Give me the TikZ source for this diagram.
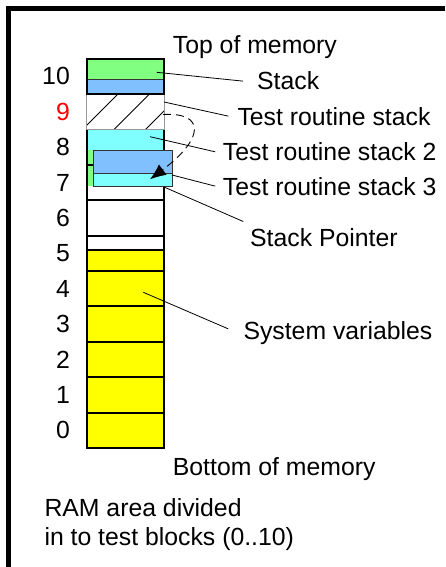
\documentclass[tikz,border=0pt]{standalone}
\usepackage{fontspec}
\setmainfont{Liberation Sans}
\usetikzlibrary{arrows.meta}
\definecolor{memgreen}{RGB}{128,255,128}
\definecolor{memblue}{RGB}{128,192,255}
\definecolor{memcyan}{RGB}{128,255,255}
\definecolor{memyellow}{RGB}{255,255,0}
\tikzset{
  blk/.style={draw=black, line width=2pt},
  subblk/.style={draw=black!80, line width=1pt},
  hatchln/.style={black, line width=0.8pt},
  lead/.style={black, line width=0.8pt},
  lbl/.style={anchor=base west, inner sep=0pt, font=\fontsize{24.8}{29}\selectfont},
  blknum/.style={anchor=east, inner sep=0pt, font=\fontsize{24.8}{29}\selectfont},
  swaparr/.style={dash pattern=on 8pt off 5pt, line width=0.9pt, -{Latex[length=16pt,width=13pt]}},
}

\begin{document}
\begin{tikzpicture}[x=1pt,y=-1pt]
\useasboundingbox (0,0) rectangle (445,567);
\def\L{86.5} \def\R{164} \def\bh{35.4}
% frame (only top and left edge show)
\draw[line width=4.5pt] (8.5,567) -- (8.5,8.5) -- (445,8.5);
% blocks 0..4: system variables
\foreach \i in {0,...,4}{
  \pgfmathsetmacro\yb{448-\i*\bh}
  \pgfmathsetmacro\yt{448-(\i+1)*\bh}
  \draw[blk, fill=memyellow] (\L,\yb) rectangle (\R,\yt);
}
% block 5
\fill[memyellow] (\L,250) rectangle (\R,271);
\draw[black, line width=1.4pt] (\L,250) -- (\R,250);
\draw[blk] (\L,271) rectangle (\R,235.6);
% block 6
\draw[blk] (\L,235.6) rectangle (\R,200.2);
% block 7
\fill[memgreen] (\L,164.8) rectangle (\R,186);
\draw[blk] (\L,200.2) rectangle (\R,164.8);
% block 8
\fill[memcyan] (\L,129.4) rectangle (\R,150);
\fill[memgreen] (\L,150) rectangle (\R,164.8);
\draw[blk] (\L,129.4) -- (\L,164.8) -- (\R,164.8) -- (\R,129.4);
% block 9: test routine stack (hatched)
\begin{scope}
  \clip (\L,94) rectangle (\R,129.4);
  \foreach \c in {212,243.5,275}
    \draw[hatchln] (\c-140,140) -- (\c-80,80);
\end{scope}
\draw[gray!80, line width=0.8pt] (\L,94) rectangle (\R,129.4);
% block 10: stack
\fill[memgreen] (\L,58.6) rectangle (\R,79);
\fill[memblue] (\L,79) rectangle (\R,94);
\draw[black!80, line width=0.9pt] (\L,79) -- (\R,79);
\draw[blk] (\L,94) rectangle (\R,58.6);
% test routine stacks 2 and 3
\draw[subblk, fill=memblue] (93,150) rectangle (172,173);
\draw[subblk, fill=memcyan] (93,173) rectangle (172,186);

% block numbers
\foreach \i in {0,...,10}{
  \ifnum\i=9 \def\numcol{red}\else\def\numcol{black}\fi
  \node[blknum, text=\numcol] (n\i) at (70,{448-(\i+0.5)*\bh}) {\i};
}

% labels
\node[lbl] (l-top) at (172.7,54) {Top of memory};
\node[lbl] (l-stack) at (257,90) {Stack};
\node[lbl] (l-trs) at (237.3,125) {Test routine stack};
\node[lbl] (l-trs2) at (222.7,160.7) {Test routine stack 2};
\node[lbl] (l-trs3) at (222.7,195) {Test routine stack 3};
\node[lbl] (l-sp) at (250,246.7) {Stack Pointer};
\node[lbl] (l-sys) at (243.3,339.3) {System variables};
\node[lbl] (l-bot) at (172.7,475) {Bottom of memory};
\node[lbl] (l-ram1) at (44.3,516) {RAM area divided};
\node[lbl] (l-ram2) at (44.3,545) {in to test blocks (0..10)};

% leader lines
\coordinate (c-stack) at (156.7,72.3);
\coordinate (c-trs) at (164,102);
\coordinate (c-trs2) at (150,136.7);
\coordinate (c-trs3) at (172,175);
\coordinate (c-sp) at (164,187);
\coordinate (c-sys) at (143.3,292.3);
\draw[lead] (c-stack) -- ([xshift=-14pt]l-stack.west);
\draw[lead] (c-trs) -- ([xshift=-9pt]l-trs.west);
\draw[lead] (c-trs2) -- ([xshift=-7.5pt]l-trs2.west);
\draw[lead] (c-trs3) -- ([xshift=-7.5pt]l-trs3.west);
\draw[lead] (c-sp) -- ([xshift=-6.7pt,yshift=7pt]l-sp.north west);
\draw[lead] (c-sys) -- ([xshift=-15pt,yshift=4pt]l-sys.west);

% stack swap arrow
\coordinate (c-swap-from) at (163,114.5);
\coordinate (c-swap-to) at (150,179.3);
\draw[swaparr] (c-swap-from) .. controls (205,112) and (205,138) .. (c-swap-to);
\end{tikzpicture}
\end{document}
